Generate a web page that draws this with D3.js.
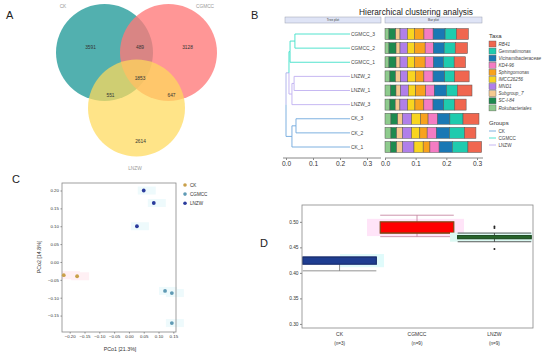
<!DOCTYPE html>
<html><head><meta charset="utf-8">
<script src="https://cdn.jsdelivr.net/npm/d3@7"></script>
<style>body{margin:0;background:#fff}svg{display:block;font-family:"Liberation Sans",Arial,sans-serif}</style>
</head><body><svg id="c" width="550" height="358"></svg>
<script>
// ---------- DATA ----------
// Panel A (Venn)
const vennSets = ["CK", "CGMCC", "LNZW"];
const vennRegions = ["CK", "CGMCC", "LNZW", "CK&CGMCC", "CK&LNZW", "CGMCC&LNZW", "CK&CGMCC&LNZW"];
const vennCounts = [3591, 3128, 2614, 489, 551, 647, 1853];

// Panel B (clustering + stacked bars)
const samples = ["CGMCC_3", "CGMCC_2", "CGMCC_1", "LNZW_2", "LNZW_1", "LNZW_3", "CK_3", "CK_2", "CK_1"];
const taxa = ["RB41", "Gemmatimonas", "Vicinamibacteraceae", "KD4-96", "Sphingomonas", "IMCC26256", "MND1", "Subgroup_7", "SC-I-84", "Rokubacteriales"];
const RB41 =                [0.039, 0.040, 0.037, 0.047, 0.048, 0.037, 0.052, 0.037, 0.0445];
const Gemmatimonas =        [0.037, 0.036, 0.035, 0.0326, 0.035, 0.036, 0.043, 0.049, 0.051];
const Vicinamibacteraceae = [0.039, 0.035, 0.0326, 0.038, 0.040, 0.035, 0.040, 0.043, 0.043];
const KD4_96 =              [0.030, 0.027, 0.027, 0.030, 0.028, 0.030, 0.031, 0.030, 0.030];
const Sphingomonas =        [0.031, 0.035, 0.035, 0.028, 0.0326, 0.029, 0.025, 0.024, 0.022];
const IMCC26256 =           [0.023, 0.023, 0.023, 0.025, 0.024, 0.024, 0.029, 0.027, 0.030];
const MND1 =                [0.024, 0.024, 0.024, 0.024, 0.025, 0.025, 0.029, 0.029, 0.037];
const Subgroup_7 =          [0.014, 0.013, 0.013, 0.0153, 0.0153, 0.0153, 0.016, 0.0195, 0.0195];
const SC_I_84 =             [0.022, 0.023, 0.023, 0.0185, 0.0173, 0.0173, 0.022, 0.0185, 0.0195];
const Rokubacteriales =     [0.013, 0.013, 0.013, 0.016, 0.0185, 0.016, 0.0195, 0.0195, 0.0185];
const taxaValues = [RB41, Gemmatimonas, Vicinamibacteraceae, KD4_96, Sphingomonas, IMCC26256, MND1, Subgroup_7, SC_I_84, Rokubacteriales];
const taxaColors = ["#f0664f", "#1fcbae", "#1a78b4", "#f47cc3", "#f8a21d", "#f8d520", "#b07fe9", "#f6c98f", "#1d8a4f", "#8ecb8d"];
const barTicks = [0.0, 0.1, 0.2, 0.3];
const treeTicks = [0.0, 0.1, 0.2, 0.3];
// dendrogram: merge heights
const tree = {h: 0.0, children: [
  {h: 0.011, children: [
    {h: 0.015, children: [{h: 0.033, children: [{name: "CGMCC_3"}, {name: "CGMCC_2"}]}, {name: "CGMCC_1"}]},
    {h: 0.022, children: [{h: 0.030, children: [{name: "LNZW_2"}, {name: "LNZW_1"}]}, {name: "LNZW_3"}]}
  ]},
  {h: 0.022, children: [{h: 0.037, children: [{name: "CK_3"}, {name: "CK_2"}]}, {name: "CK_1"}]}
]};
const leafHeight = 0.237;
const groupNames = ["CK", "CGMCC", "LNZW"];
const groupColors = ["#6fa8dc", "#3ee0c8", "#bfb0f0"];

// Panel C (PCoA)
const pcoaGroup = ["CK", "CK", "CGMCC", "CGMCC", "CGMCC", "LNZW", "LNZW", "LNZW"];
const pcoaX = [-0.220, -0.175, 0.122, 0.145, 0.145, 0.050, 0.084, 0.027];
const pcoaY = [-0.037, -0.040, -0.081, -0.087, -0.171, 0.200, 0.165, 0.100];
const pcoaColors = ["#c9a04a", "#5f9ab4", "#2a3b9c"];
const pcoaXTicks = [-0.20, -0.15, -0.10, -0.05, 0.00, 0.05, 0.10, 0.15];
const pcoaYTicks = [-0.15, -0.10, -0.05, 0.00, 0.05, 0.10, 0.15, 0.20];

// Panel D (boxplot)
const boxGroups = ["CK", "CGMCC", "LNZW"];
const boxN = [3, 9, 9];
const boxLow = [0.404, 0.471, 0.461];
const boxQ1 = [0.417, 0.478, 0.467];
const boxMed = [0.431, 0.478, 0.470];
const boxQ3 = [0.431, 0.500, 0.473];
const boxHigh = [0.431, 0.513, 0.478];
const outlierGroup = ["LNZW", "LNZW", "LNZW"];
const outlierValue = [0.491, 0.488, 0.447];
const boxYTicks = [0.30, 0.35, 0.40, 0.45, 0.50];

// ---------- DRAW ----------
const svg = d3.select("#c");
const f2 = d3.format(".2f"), f1 = d3.format(".1f");
function letter(t, x, y) { svg.append("text").attr("x", x).attr("y", y).attr("font-size", 11).attr("fill", "#222").text(t); }
letter("A", 6, 19); letter("B", 251, 19); letter("C", 12, 183); letter("D", 260, 247);

// ---- A: Venn ----
(function () {
  const r = 48.5, side = 64, cx = 136.5, cy = 71;
  const centers = [[cx - side / 2, cy - 18.5], [cx + side / 2, cy - 18.5], [cx, cy + 37]];
  const fills = ["#3fa7a6", "#ff7878", "#ffda5a"];
  const opac = [0.9, 0.78, 0.72];
  const g = svg.append("g");
  g.selectAll("circle").data(vennSets).join("circle")
    .attr("cx", (d, i) => centers[i][0]).attr("cy", (d, i) => centers[i][1]).attr("r", r)
    .attr("fill", (d, i) => fills[i]).attr("fill-opacity", (d, i) => opac[i]);
  const setLabelPos = [[63, 8], [205, 8], [135, 170]];
  g.selectAll("text.s").data(vennSets).join("text").attr("class", "s")
    .attr("x", (d, i) => setLabelPos[i][0]).attr("y", (d, i) => setLabelPos[i][1])
    .attr("text-anchor", "middle").attr("font-size", 4.8).attr("fill", "#999").text(d => d);
  const off = [[-46, -24], [51, -24], [4, 70], [3.5, -24], [-26, 24.5], [35, 24.5], [3.5, 7]];
  g.selectAll("text.n").data(vennCounts).join("text").attr("class", "n")
    .attr("x", (d, i) => cx + off[i][0]).attr("y", (d, i) => cy + off[i][1] + 1.6)
    .attr("text-anchor", "middle").attr("font-size", 4.8).attr("fill", "#333").text(d => d);
})();

// ---- B: Tree + bars ----
(function () {
  svg.append("text").attr("x", 416).attr("y", 15).attr("text-anchor", "middle")
    .attr("font-size", 8.3).attr("fill", "#222").text("Hierarchical clustering analysis");
  const strips = [["Tree plot", 285, 381], ["Bar plot", 385, 482]];
  strips.forEach(s => {
    svg.append("rect").attr("x", s[1]).attr("y", 17).attr("width", s[2] - s[1]).attr("height", 6)
      .attr("fill", "#dfe4f6").attr("stroke", "#9aa0b0").attr("stroke-width", 0.5);
    svg.append("text").attr("x", (s[1] + s[2]) / 2).attr("y", 21.3).attr("text-anchor", "middle")
      .attr("font-size", 3.2).attr("fill", "#444").text(s[0]);
  });
  const y = d3.scalePoint().domain(samples).range([34, 147]);
  const xT = d3.scaleLinear().domain([0, 0.3]).range([286, 367]);
  const xB = d3.scaleLinear().domain([0, 0.3]).range([385, 477]);
  const root = d3.hierarchy(tree);
  const grp = n => n.split("_")[0];
  root.eachAfter(n => {
    if (!n.children) { n.py = y(n.data.name); n.px = xT(leafHeight); n.grp = grp(n.data.name); }
    else {
      n.py = (n.children[0].py + n.children[n.children.length - 1].py) / 2; n.px = xT(n.data.h);
      const gs = new Set(n.children.map(c => c.grp)); n.grp = gs.size === 1 ? [...gs][0] : "mixed";
    }
  });
  const gc = g => g === "mixed" ? "#a9aeea" : groupColors[groupNames.indexOf(g)];
  const tg = svg.append("g").attr("fill", "none").attr("stroke-width", 0.9);
  root.descendants().filter(n => n.parent).forEach(n => {
    const c = n.parent.parent ? gc(n.grp) : gc(n.grp === "CK" ? "CK" : "mixed");
    tg.append("path").attr("stroke", c)
      .attr("d", `M${n.parent.px},${n.parent.py}V${n.py}H${n.px}`);
  });
  svg.append("g").selectAll("text").data(samples).join("text")
    .attr("x", xT(leafHeight) + 1).attr("y", d => y(d) + 1.7).attr("font-size", 4.9).attr("fill", "#444").text(d => d);
  const ta = svg.append("g").attr("transform", "translate(0,158)")
    .call(d3.axisBottom(xT).tickValues(treeTicks).tickFormat(f1).tickSize(2).tickPadding(1.5));
  ta.select(".domain").attr("d", "M283,0H381").attr("stroke", "#888");
  ta.selectAll("line").attr("stroke", "#888");
  ta.selectAll("text").attr("font-size", 6.6).attr("fill", "#333").attr("font-family", "Liberation Sans, Arial");
  const order = taxa.map((t, i) => i).reverse();
  const bg = svg.append("g");
  samples.forEach((s, si) => {
    let acc = 0;
    order.forEach(ti => {
      const v = taxaValues[ti][si];
      bg.append("rect").attr("x", xB(acc)).attr("y", y(s) - 5.5).attr("width", xB(acc + v) - xB(acc)).attr("height", 11)
        .attr("fill", taxaColors[ti]).attr("stroke", "#555").attr("stroke-width", 0.5);
      acc += v;
    });
  });
  const ba = svg.append("g").attr("transform", "translate(0,158)")
    .call(d3.axisBottom(xB).tickValues(barTicks).tickFormat(f1).tickSize(2).tickPadding(1.5));
  ba.select(".domain").attr("d", "M385,0H483").attr("stroke", "#888");
  ba.selectAll("line").attr("stroke", "#888");
  ba.selectAll("text").attr("font-size", 6.6).attr("fill", "#333").attr("font-family", "Liberation Sans, Arial");
  svg.append("text").attr("x", 489).attr("y", 38).attr("font-size", 6).attr("fill", "#333").text("Taxa");
  const lg = svg.append("g");
  taxa.forEach((t, i) => {
    const yy = 41 + i * 7.1;
    lg.append("rect").attr("x", 489).attr("y", yy).attr("width", 7).attr("height", 6)
      .attr("fill", taxaColors[i]).attr("stroke", "#555").attr("stroke-width", 0.4);
    lg.append("text").attr("x", 498.5).attr("y", yy + 4.6).attr("font-size", 4.6).attr("font-style", "italic")
      .attr("fill", "#444").text(t);
  });
  svg.append("text").attr("x", 489).attr("y", 125).attr("font-size", 6).attr("fill", "#333").text("Groups");
  groupNames.forEach((gname, i) => {
    const yy = 131 + i * 7;
    lg.append("line").attr("x1", 489).attr("x2", 496).attr("y1", yy).attr("y2", yy).attr("stroke", groupColors[i]).attr("stroke-width", 0.9);
    lg.append("text").attr("x", 498.5).attr("y", yy + 1.7).attr("font-size", 4.6).attr("fill", "#444").text(gname);
  });
})();

// ---- C: PCoA ----
(function () {
  const x = d3.scaleLinear().domain([-0.226, 0.159]).range([62, 176]);
  const y = d3.scaleLinear().domain([-0.196, 0.221]).range([332, 183]);
  const g = svg.append("g");
  const col = gname => pcoaColors[["CK", "CGMCC", "LNZW"].indexOf(gname)];
  pcoaX.forEach((v, i) => {
    g.append("rect").attr("x", Math.max(62, x(v) - 6)).attr("y", y(pcoaY[i]) - 4).attr("width", 18).attr("height", 8)
      .attr("fill", pcoaGroup[i] === "CK" ? "#fff0f4" : "#eefafc");
  });
  g.append("rect").attr("x", 62).attr("y", 183).attr("width", 114).attr("height", 149)
    .attr("fill", "none").attr("stroke", "#888").attr("stroke-width", 0.8);
  g.selectAll("circle").data(pcoaX).join("circle")
    .attr("cx", d => x(d)).attr("cy", (d, i) => y(pcoaY[i])).attr("r", 1.9)
    .attr("fill", (d, i) => col(pcoaGroup[i]));
  const xa = svg.append("g").attr("transform", "translate(0,332)")
    .call(d3.axisBottom(x).tickValues(pcoaXTicks).tickFormat(f2).tickSize(1.5).tickPadding(1));
  const ya = svg.append("g").attr("transform", "translate(62,0)")
    .call(d3.axisLeft(y).tickValues(pcoaYTicks).tickFormat(f2).tickSize(1.5).tickPadding(1.5));
  [xa, ya].forEach(a => {
    a.select(".domain").remove();
    a.selectAll("line").attr("stroke", "#888");
    a.selectAll("text").attr("font-size", 4.4).attr("fill", "#333").attr("font-family", "Liberation Sans, Arial");
  });
  svg.append("text").attr("x", 120).attr("y", 351).attr("text-anchor", "middle").attr("font-size", 5.3).attr("fill", "#333").text("PCo1 [21.3%]");
  svg.append("text").attr("transform", "translate(41,257) rotate(-90)").attr("text-anchor", "middle").attr("font-size", 5.3).attr("fill", "#333").text("PCo2 [14.8%]");
  ["CK", "CGMCC", "LNZW"].forEach((gname, i) => {
    svg.append("circle").attr("cx", 185).attr("cy", 185 + i * 9.1).attr("r", 1.8).attr("fill", pcoaColors[i]);
    svg.append("text").attr("x", 190).attr("y", 186.7 + i * 9.1).attr("font-size", 4.6).attr("fill", "#333").text(gname);
  });
})();

// ---- D: Boxplot ----
(function () {
  const x = d3.scaleBand().domain(boxGroups).range([302, 532]).paddingInner(0.05).paddingOuter(0.01);
  const y = d3.scaleLinear().domain([0.292, 0.533]).range([328, 205]);
  const g = svg.append("g");
  const glow = ["#e0fbfb", "#ffe4f8", "#dcf9f3"];
  const fill = ["#1f3d91", "#ff0000", "#2f7a35"];
  const stroke = ["#1a2f70", "#7d4a16", "#1f4d22"];
  const wcol = ["#777", "#c07a98", "#333"];
  const glowX = [[340, 384], [367, 464], [450, 532]];
  boxGroups.forEach((gname, i) => {
    const x0 = x(gname), w = x.bandwidth(), xc = x0 + w / 2;
    g.append("rect").attr("x", glowX[i][0]).attr("y", y(boxQ3[i]) - 3).attr("width", glowX[i][1] - glowX[i][0])
      .attr("height", y(boxQ1[i]) - y(boxQ3[i]) + 6).attr("fill", glow[i]);
    g.append("line").attr("x1", xc).attr("x2", xc).attr("y1", y(boxHigh[i])).attr("y2", y(boxLow[i])).attr("stroke", wcol[i]).attr("stroke-width", 0.8);
    [boxHigh[i], boxLow[i]].forEach(v => {
      if (v === boxQ3[i]) return;
      g.append("line").attr("x1", x0).attr("x2", x0 + w).attr("y1", y(v)).attr("y2", y(v)).attr("stroke", wcol[i]).attr("stroke-width", 0.8);
    });
    g.append("rect").attr("x", x0).attr("y", y(boxQ3[i])).attr("width", w).attr("height", y(boxQ1[i]) - y(boxQ3[i]))
      .attr("fill", fill[i]).attr("stroke", stroke[i]).attr("stroke-width", 1.2);
    g.append("line").attr("x1", x0).attr("x2", x0 + w).attr("y1", y(boxMed[i])).attr("y2", y(boxMed[i])).attr("stroke", stroke[i]).attr("stroke-width", 0.8);
  });
  g.selectAll("circle.o").data(outlierValue).join("circle").attr("class", "o")
    .attr("cx", (d, i) => x(outlierGroup[i]) + x.bandwidth() / 2).attr("cy", d => y(d)).attr("r", 1).attr("fill", "#222");
  g.append("rect").attr("x", 302).attr("y", 205).attr("width", 231).attr("height", 123)
    .attr("fill", "none").attr("stroke", "#888").attr("stroke-width", 0.8);
  const ya = svg.append("g").attr("transform", "translate(302,0)")
    .call(d3.axisLeft(y).tickValues(boxYTicks).tickFormat(f2).tickSize(2).tickPadding(1.5));
  ya.select(".domain").remove();
  ya.selectAll("line").attr("stroke", "#888");
  ya.selectAll("text").attr("font-size", 4.8).attr("fill", "#333").attr("font-family", "Liberation Sans, Arial");
  boxGroups.forEach((gname, i) => {
    const xc = x(gname) + x.bandwidth() / 2;
    svg.append("text").attr("x", xc).attr("y", 336).attr("text-anchor", "middle").attr("font-size", 5).attr("fill", "#333").text(gname);
    svg.append("text").attr("x", xc).attr("y", 344.5).attr("text-anchor", "middle").attr("font-size", 4.6).attr("fill", "#333").text("(n=" + boxN[i] + ")");
  });
})();
</script></body></html>
